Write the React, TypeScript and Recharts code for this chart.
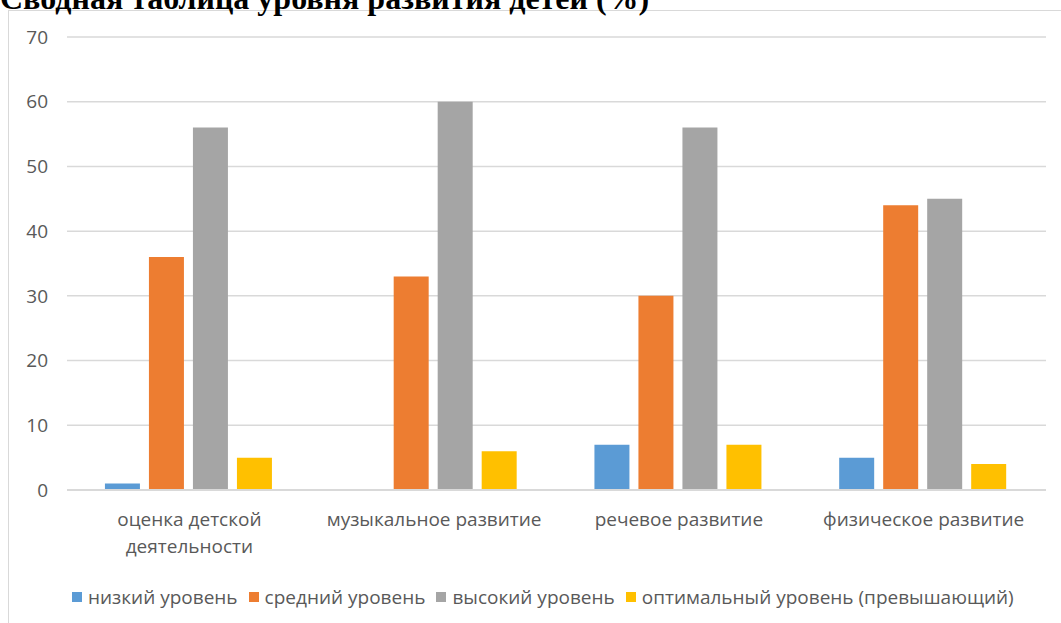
import React from "react";
import { BarChart, Bar, XAxis, YAxis, CartesianGrid, Legend } from "recharts";

const categories = [
  "оценка детской деятельности",
  "музыкальное развитие",
  "речевое развитие",
  "физическое развитие",
];
const low = [1, 0, 7, 5];
const medium = [36, 33, 30, 44];
const high = [56, 60, 56, 45];
const optimal = [5, 6, 7, 4];
const yTicks = [0, 10, 20, 30, 40, 50, 60, 70];

const seriesNames = {
  low: "низкий уровень",
  medium: "средний уровень",
  high: "высокий уровень",
  optimal: "оптимальный уровень (превышающий)",
};
const colors = { low: "#5b9bd5", medium: "#ed7d31", high: "#a5a5a5", optimal: "#ffc000" };

const data = categories.map((c, i) => ({
  name: c,
  low: low[i],
  medium: medium[i],
  high: high[i],
  optimal: optimal[i],
}));

const FONT = "'Open Sans', sans-serif";

const XTick = (props: any) => {
  const { x, y, payload } = props;
  const v: string = payload.value;
  let lines = [v];
  if (v === "оценка детской деятельности") lines = ["оценка детской", "деятельности"];
  return (
    <text x={x} y={y} textAnchor="middle" fill="#595959" fontSize={19} fontFamily={FONT}>
      {lines.map((l, i) => (
        <tspan key={i} x={x} dy={i === 0 ? 28 : 27}>
          {l}
        </tspan>
      ))}
    </text>
  );
};

const LegendContent = () => {
  const keys = ["low", "medium", "high", "optimal"] as const;
  return (
    <div style={{ display: "flex", justifyContent: "flex-start", paddingLeft: 72, fontFamily: FONT, fontSize: 19, color: "#595959", whiteSpace: "nowrap" }}>
      {keys.map((k) => (
        <span key={k} style={{ display: "inline-flex", alignItems: "center", marginRight: 11 }}>
          <span style={{ width: 10, height: 10, background: colors[k], display: "inline-block", marginRight: 6 }} />
          {seriesNames[k]}
        </span>
      ))}
    </div>
  );
};

export default function App() {
  return (
    <div style={{ position: "absolute", left: 0, top: 0, width: 1061, height: 623, overflow: "hidden", background: "#fff" }}>
      <div
        style={{
          position: "absolute",
          left: 8,
          top: 10,
          width: 1100,
          height: 700,
          borderLeft: "1.5px solid #d9d9d9",
          borderTop: "1.5px solid #d9d9d9",
        }}
      />
      <div
        style={{
          position: "absolute",
          left: 0,
          top: -18,
          fontFamily: "'Liberation Serif', serif",
          fontWeight: "bold",
          fontSize: 32,
          lineHeight: "32px",
          whiteSpace: "nowrap",
          color: "#000",
        }}
      >
        Сводная таблица уровня развития детей (%)
      </div>
      <div style={{ position: "absolute", left: 0, top: 0 }}>
        <BarChart
          width={1061}
          height={623}
          data={data}
          margin={{ top: 37, right: 15, bottom: 0, left: 0 }}
          barCategoryGap="15.5%"
          barGap={9}
        >
          <CartesianGrid vertical={false} stroke="#d9d9d9" strokeWidth={1.5} />
          <YAxis
            width={67}
            domain={[0, 70]}
            ticks={yTicks}
            axisLine={false}
            tickLine={false}
            tickMargin={13}
            tick={{ fill: "#595959", fontSize: 19, fontFamily: FONT }}
          />
          <XAxis
            dataKey="name"
            height={107}
            axisLine={{ stroke: "#d9d9d9", strokeWidth: 2 }}
            tickLine={false}
            tick={<XTick />}
            interval={0}
          />
          <Legend verticalAlign="bottom" content={<LegendContent />} wrapperStyle={{ top: 584, left: 0, width: 1061 }} />
          <Bar dataKey="low" name={seriesNames.low} fill={colors.low} isAnimationActive={false} />
          <Bar dataKey="medium" name={seriesNames.medium} fill={colors.medium} isAnimationActive={false} />
          <Bar dataKey="high" name={seriesNames.high} fill={colors.high} isAnimationActive={false} />
          <Bar dataKey="optimal" name={seriesNames.optimal} fill={colors.optimal} isAnimationActive={false} />
        </BarChart>
      </div>
    </div>
  );
}
